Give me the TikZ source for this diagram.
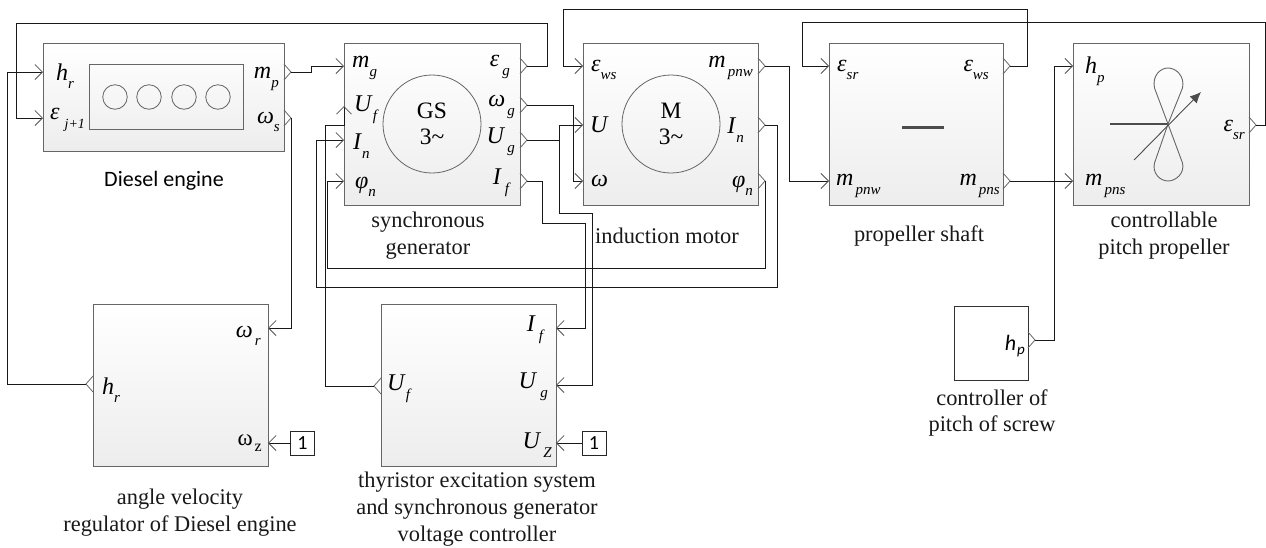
\documentclass[tikz,border=0pt]{standalone}
\usepackage{fontspec}
\setmainfont{Liberation Serif}
\newfontfamily\calib{Carlito}
\usetikzlibrary{arrows.meta}
\newcommand{\lb}[2]{\textit{#1}\raisebox{-.36em}{\fontsize{15}{15}\selectfont\textit{#2}}}
\definecolor{boxedge}{HTML}{666666}
\definecolor{boxfade}{HTML}{EDEDED}
\tikzset{
  x=1pt,y=-1pt,
  block/.style={draw=boxedge,line width=1pt,top color=white,bottom color=boxfade,anchor=north west,inner sep=0pt,outer sep=0pt},
  inner box/.style={draw=boxedge,line width=.9pt,fill=none,anchor=north west,inner sep=0pt,outer sep=0pt},
  wheel/.style={circle,draw=boxedge,line width=.8pt,inner sep=0pt,outer sep=0pt},
  portlab/.style={font=\fontsize{24}{24}\selectfont,inner sep=0pt,anchor=west},
  portlabr/.style={font=\fontsize{24}{24}\selectfont,inner sep=0pt,anchor=east},
  caption/.style={font=\fontsize{22.4}{26.8}\selectfont,align=center,inner sep=0pt,text=black!90},
  wire/.style={draw=black!90,line width=1pt,line join=miter},
  inp/.style={wire,-{Straight Barb[length=7.5pt,width=15pt,line width=.8pt,color=boxedge!80!black]}},
  chev/.style={draw=boxedge,line width=.8pt,fill=none},
  const/.style={draw=black!85,line width=1pt,minimum size=24pt,inner sep=0pt,outer sep=0pt,font=\calib\fontsize{20}{20}\selectfont},
}
\begin{document}
\begin{tikzpicture}
\useasboundingbox (0,0) rectangle (1266,547);
\fill[white] (0,0) rectangle (1266,547);
% blocks
\node[block,minimum width=241pt,minimum height=108pt] (de) at (43,43) {};
\node[block,minimum width=176pt,minimum height=162pt] (gs) at (344,43) {};
\node[block,minimum width=175pt,minimum height=162pt] (im) at (583,43) {};
\node[block,minimum width=174pt,minimum height=162pt] (ps) at (829,43) {};
\node[block,minimum width=176pt,minimum height=162pt] (cp) at (1073,43) {};
\node[block,minimum width=175pt,minimum height=162pt] (rg) at (93,304) {};
\node[block,minimum width=175pt,minimum height=162pt] (te) at (381,304) {};
\node[block,draw=black!80,top color=white,bottom color=white,minimum width=74pt,minimum height=74pt] (cs) at (954,306) {};
\node[const] (c1) at (302.5,443) {1};
\node[const] (c2) at (594,443) {1};
% diesel engine inner drawing
\node[inner box,minimum width=154pt,minimum height=65pt] (eng) at (89,64) {};
\foreach \n/\cx in {a/115,b/149,c/184,d/218}
  \node[wheel,minimum size=24.5pt] (cyl\n) at (\cx,97) {};
% machines
\node[wheel,minimum size=98pt,align=center,font=\fontsize{23.5}{26.5}\selectfont] (gsw) at (432,124) {GS\\3\textasciitilde};
\node[wheel,minimum size=98pt,align=center,font=\fontsize{23.5}{26.5}\selectfont] (imw) at (671,124) {M\\3\textasciitilde};
% shaft bar
\coordinate (sa) at (902,127); \coordinate (sb) at (944,127);
\draw[draw=black!70,line width=3pt] (sa) -- (sb);
% propeller
\coordinate (hub) at (1168,124);
\draw[draw=black!70,line width=2.8pt] (1110,124) -- (hub);
\draw[draw=boxedge,line width=.9pt] (hub) -- (1154.5,88) .. controls (1152,76) and (1160,68) .. (1168,68) .. controls (1176,68) and (1185,76) .. (1182.5,88) -- (hub);
\draw[draw=boxedge,line width=.9pt] (hub) -- (1154.5,163) .. controls (1152,173) and (1160,181) .. (1168,181) .. controls (1176,181) and (1185,173) .. (1182.5,163) -- (hub);
\draw[draw=black!70,line width=.9pt,-{Latex[length=11pt,width=10pt]}] (1134,160) -- (1201,92);
% ports: outputs
\foreach \nm/\px/\py in {dmp/284/72,dws/284/118,geg/520/66,gwg/520/105,gug/520/140,gif/520/181,
  mmp/758/66,min/758/125,mph/758/181,pws/1003/66,pmp/1003/181,csr/1249/125,chp/1028/340}{
  \coordinate (\nm) at (\px,\py);
  \draw[chev] (\px,\py-8) -- (\px+7,\py) -- (\px,\py+8);
}
% ports: outputs on the left side
\foreach \nm/\px/\py in {rhr/93/384,tuf/381/386}{
  \coordinate (\nm) at (\px,\py);
  \draw[chev] (\px,\py-8) -- (\px-7,\py) -- (\px,\py+8);
}
% ports: inputs
\foreach \nm/\px/\py in {dhr/43/72,deps/43/118,gmg/344/66,guf/344/106,gin/344/140,gph/344/181,
  mes/583/66,mu/583/125,mw/583/181,pes/829/66,ppw/829/181,chpi/1073/66,cpn/1073/181,
  rwr/268/328,rwz/268/443,tif/556/328,tug/556/385,tuz/556/443}
  \coordinate (\nm) at (\px,\py);
% connectors
\draw[inp] (geg) ++(7,0) -- (547,66) -- (547,23) -- (16,23) -- (16,118) -- (deps);
\draw[inp] (rhr) ++(-7,0) -- (7,384) -- (7,72) -- (dhr);
\draw[inp] (dmp) ++(7,0) -- (311,72) -- (311,66) -- (gmg);
\draw[inp] (dws) ++(7,0) -- (291,328) -- (rwr);
\draw[inp] (tuf) ++(-7,0) -- (325,386) -- (325,125) -- (344,125) -- (guf);
\draw[inp] (min) ++(7,0) -- (777,125) -- (777,287) -- (316,287) -- (316,140) -- (gin);
\draw[inp] (mph) ++(7,0) -- (765,268) -- (327,268) -- (327,181) -- (gph);
\draw[inp] (gwg) ++(7,0) -- (573.5,105) -- (573.5,181) -- (mw);
\draw[inp] (gug) ++(7,0) -- (559,140) -- (559,125) -- (mu);
\draw[inp] (559,140) -- (559,213) -- (592,213) -- (592,385) -- (tug);
\draw[inp] (gif) ++(7,0) -- (542,181) -- (542,223.5) -- (585,223.5) -- (585,328) -- (tif);
\draw[inp] (pws) ++(7,0) -- (1027,66) -- (1027,9) -- (563,9) -- (563,66) -- (mes);
\draw[inp] (mmp) ++(7,0) -- (789,66) -- (789,181) -- (ppw);
\draw[inp] (csr) ++(7,0) -- (1265.5,125) -- (1265.5,22.5) -- (802,22.5) -- (802,66) -- (pes);
\draw[inp] (pmp) ++(7,0) -- (cpn);
\draw[inp] (chp) ++(7,0) -- (1054,340) -- (1054,66) -- (chpi);
\draw[inp] (c1) -- (rwz);
\draw[inp] (c2) -- (tuz);
% port labels
\node[portlab] (l1) at (56,76) {\lb{h}{r}};
\node[portlab] (l2) at (50,120) {\lb{ε}{\kern5pt\fontsize{14}{14}\selectfont j+1}};
\node[portlabr] (l3) at (279,79) {\lb{m}{p}};
\node[portlabr] (l4) at (280,122) {\lb{ω}{s}};
\node[portlab] (l5) at (352,68) {\lb{m}{g}};
\node[portlab] (l6) at (354,110) {\lb{U}{f}};
\node[portlab] (l7) at (353,146) {\lb{I}{n}};
\node[portlab] (l8) at (355,187) {\lb{φ}{n}};
\node[portlabr] (l9) at (510,67) {\lb{ε}{\kern3pt g}};
\node[portlabr] (l10) at (515,107) {\lb{ω}{\kern2pt g}};
\node[portlabr] (l11) at (515,142) {\lb{U}{\kern2pt g}};
\node[portlabr] (l12) at (511,183) {\lb{I}{\kern3pt f}};
\node[portlab] (l13) at (591,70) {\lb{ε}{ws}};
\node[portlab] (l14) at (590,125) {\textit{U}};
\node[portlab] (l15) at (591,181) {\textit{ω}};
\node[portlabr] (l16) at (753,68) {\lb{m}{\kern2pt pnw}};
\node[portlabr] (l17) at (744,130) {\lb{I}{n}};
\node[portlabr] (l18) at (753,186) {\lb{φ}{n}};
\node[portlab] (l19) at (837,70) {\lb{ε}{sr}};
\node[portlab] (l20) at (836,186) {\lb{m}{\kern2pt pnw}};
\node[portlabr] (l21) at (989,70) {\lb{ε}{ws}};
\node[portlabr] (l22) at (1000,186) {\lb{m}{\kern2pt pns}};
\node[portlab] (l23) at (1085,71) {\lb{h}{p}};
\node[portlab] (l24) at (1085,186) {\lb{m}{\kern2pt pns}};
\node[portlabr] (l25) at (1245,130) {\lb{ε}{sr}};
\node[portlabr] (l26) at (261,336) {\lb{ω}{\kern2pt r}};
\node[portlab] (l27) at (102,390) {\lb{h}{r}};
\node[portlabr,font=\fontsize{23}{23}\selectfont] (l28) at (262,443) {ω\raisebox{-.25em}{\kern2pt\fontsize{16}{16}\selectfont z}};
\node[portlabr] (l29) at (545,330) {\lb{I}{\kern3pt f}};
\node[portlabr] (l30) at (548,387) {\lb{U}{\kern3pt g}};
\node[portlabr] (l31) at (552,445) {\lb{U}{\kern2pt Z}};
\node[portlab] (l32) at (387,389) {\lb{U}{f}};
\node[portlabr,font=\calib\fontsize{22}{22}\selectfont] (l33) at (1025,346) {\textit{h}\raisebox{-.2em}{\kern1pt\fontsize{15}{15}\selectfont\textit{p}}};
% captions
\node[font=\calib\fontsize{22}{22}\selectfont,inner sep=0pt] (t1) at (164,181) {Diesel engine};
\node[caption] (t2) at (428,236) {synchronous\\generator};
\node[caption] (t3) at (667,236) {induction motor};
\node[caption] (t4) at (919,236) {propeller shaft};
\node[caption] (t5) at (1164,236) {controllable\\pitch propeller};
\node[caption] (t6) at (180,513) {angle velocity\\regulator of Diesel engine};
\node[caption] (t7) at (477,509) {thyristor excitation system\\and synchronous generator\\voltage controller};
\node[caption] (t8) at (992,413) {controller of\\pitch of screw};
\end{tikzpicture}
\end{document}
